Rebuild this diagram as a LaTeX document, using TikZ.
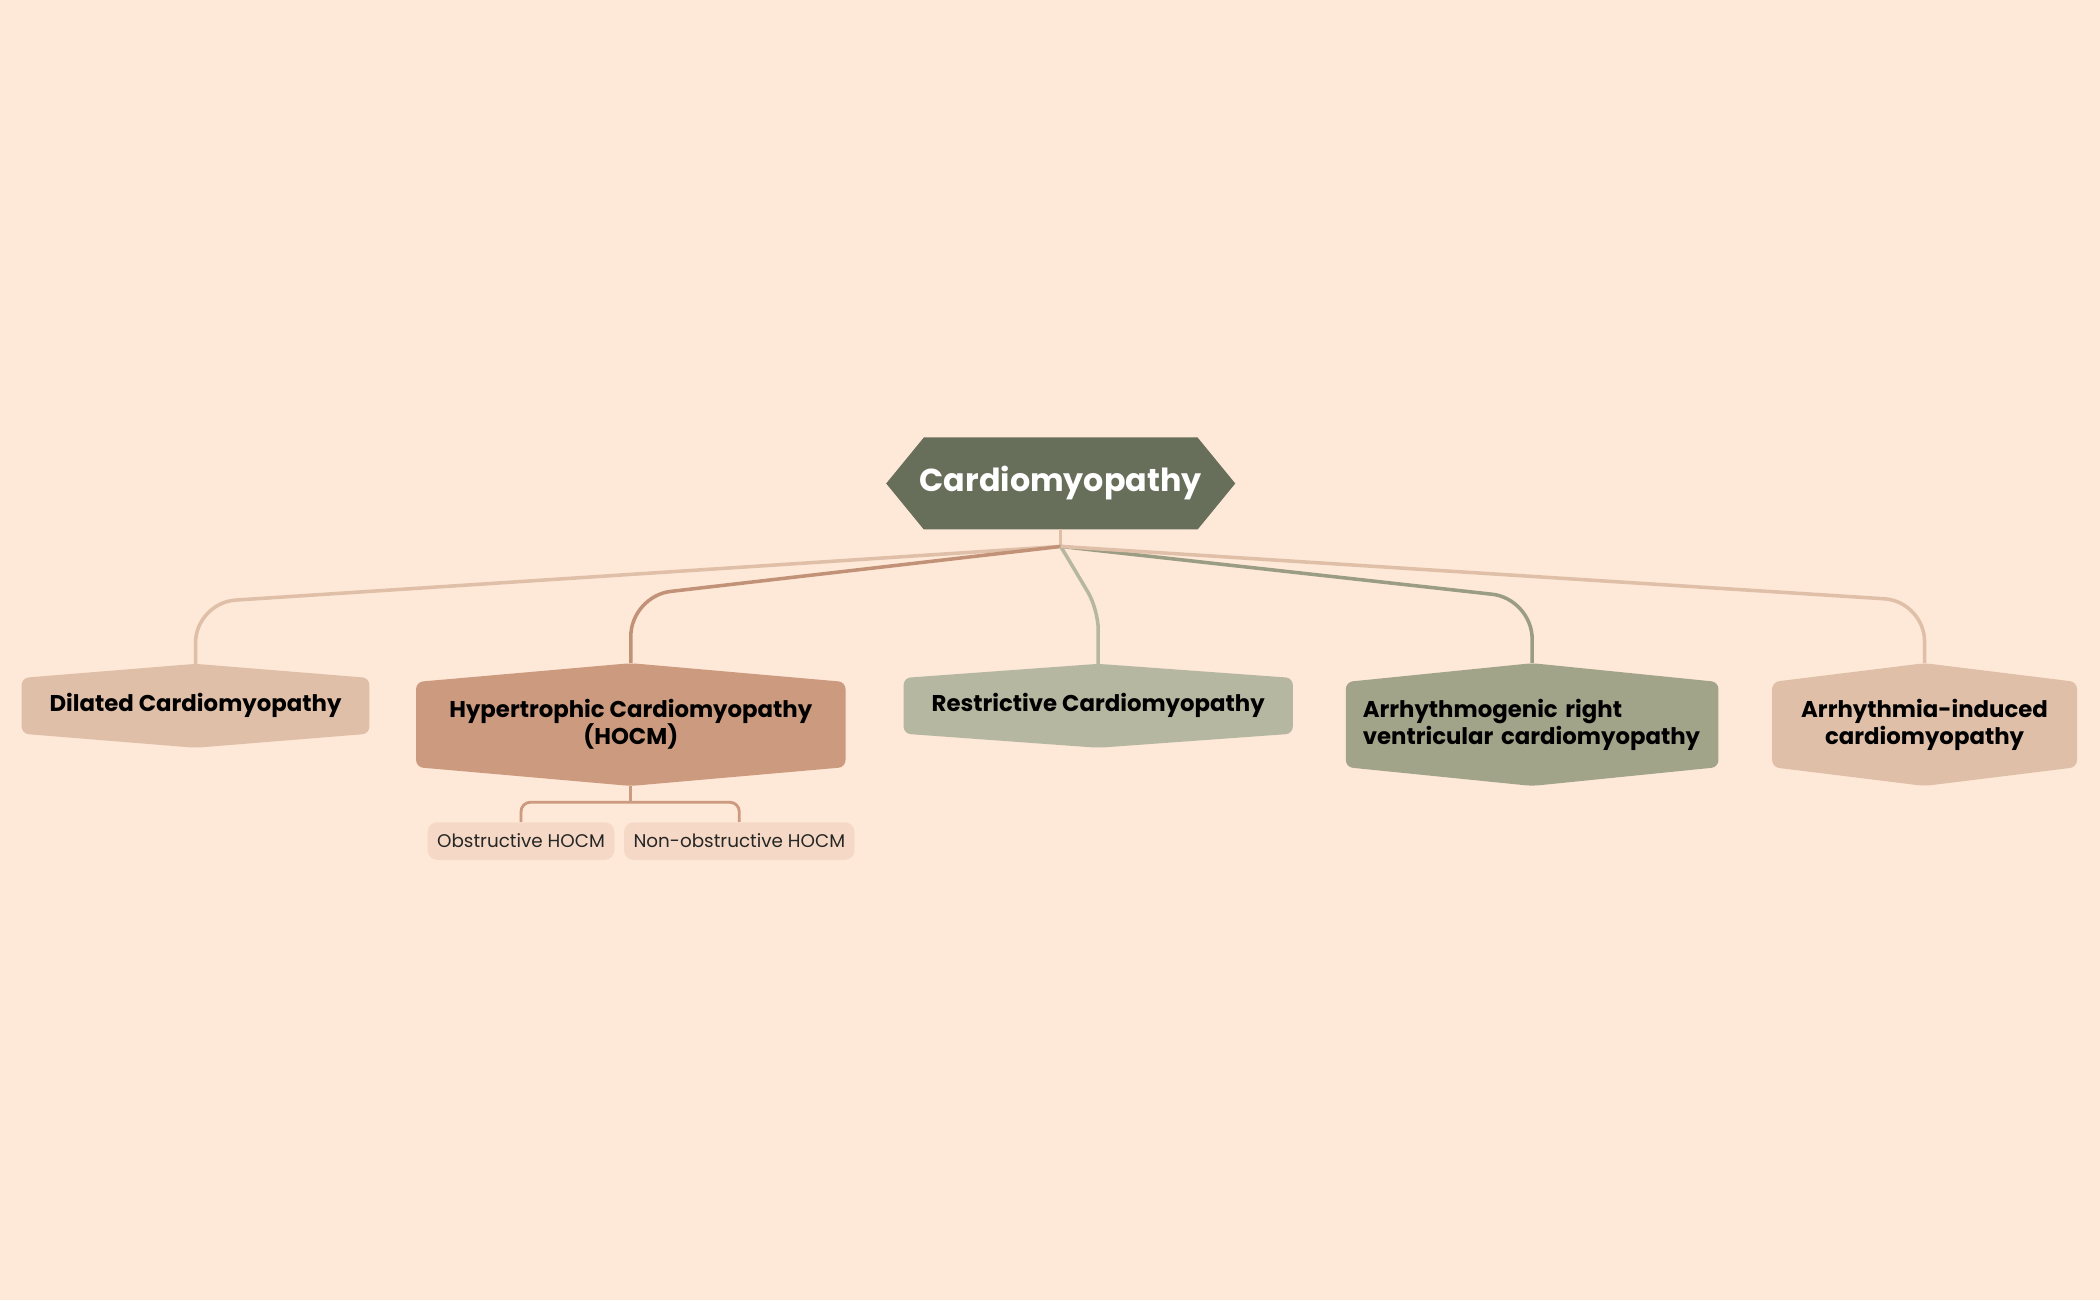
\documentclass[tikz,border=0pt]{standalone}
\usepackage{fontspec}
\setmainfont{Poppins}
\usetikzlibrary{positioning,calc,backgrounds}
\definecolor{bgpeach}{HTML}{FEE8D8}
\definecolor{rootgreen}{HTML}{676F5A}
\definecolor{tanfill}{HTML}{DFBFA8}
\definecolor{clayfill}{HTML}{CC9A7E}
\definecolor{sagefill}{HTML}{B6B7A1}
\definecolor{olivefill}{HTML}{A2A48A}
\definecolor{leaffill}{HTML}{F5D9C6}
\newcommand\hexfill[3]{% node, colour, peak
  \fill[#2,rounded corners=3pt] ($(#1.north west)+(0pt,-#3)$) -- (#1.north)
    -- ($(#1.north east)+(0pt,-#3)$) -- ($(#1.south east)+(0pt,#3)$)
    -- (#1.south) -- ($(#1.south west)+(0pt,#3)$) -- cycle;}
\begin{document}
\begin{tikzpicture}
		[x=0.02cm,y=-0.02cm,
		 topic/.style={align=center,font=\bfseries\fontsize{9.7}{11.6}\selectfont,inner sep=0pt},
		 leaf/.style={fill=leaffill,rounded corners=4pt,minimum height=0.56cm,inner xsep=4pt,font=\fontsize{7.8}{9}\selectfont,text=black!85},
		 branch/.style={line width=1.5pt,rounded corners=0.6cm}]
		\useasboundingbox (0,0) rectangle (1568,971);
		
		\node [topic,minimum width=5.18cm,minimum height=1.24cm] (dil) at (146,527) {Dilated Cardiomyopathy};
		\node [topic,minimum width=6.4cm,minimum height=1.82cm] (hocm) at (471,541) {Hypertrophic Cardiomyopathy\\(HOCM)};
		\node [topic,minimum width=5.8cm,minimum height=1.24cm] (rest) at (820,527) {Restrictive Cardiomyopathy};
		\node [topic,align=left,text width=5.06cm,minimum height=1.82cm] (arvc) at (1144,541) {Arrhythmogenic right\\ventricular cardiomyopathy};
		\node [topic,minimum width=4.54cm,minimum height=1.82cm] (arr) at (1437,541) {Arrhythmia-induced\\cardiomyopathy};
		\node [inner sep=0pt,minimum width=5.2cm,minimum height=1.36cm,text=white,font=\bfseries\fontsize{13.5}{16}\selectfont] (root) at (792,361) {Cardiomyopathy};
		
		\node [leaf] (obs) at (389,628) {Obstructive HOCM};
		\node [leaf] (non) at (552,628) {Non-obstructive HOCM};
		
		\begin{scope}[on background layer]
		\fill[bgpeach] (0,0) rectangle (1568,971);
		\hexfill{dil}{tanfill}{6pt}
		\hexfill{hocm}{clayfill}{8pt}
		\hexfill{rest}{sagefill}{6pt}
		\fill[olivefill,rounded corners=3pt] ($(arvc.north west)+(-7pt,-8pt)$) -- (arvc.north)
		  -- ($(arvc.north east)+(7pt,-8pt)$) -- ($(arvc.south east)+(7pt,8pt)$)
		  -- (arvc.south) -- ($(arvc.south west)+(-7pt,8pt)$) -- cycle;
		\hexfill{arr}{tanfill}{8pt}
		\fill[rootgreen] (root.west) -- ($(root.north west)+(16pt,0pt)$) -- ($(root.north east)+(-16pt,0pt)$)
		  -- (root.east) -- ($(root.south east)+(-16pt,0pt)$) -- ($(root.south west)+(16pt,0pt)$) -- cycle;
		\end{scope}
		
		\coordinate (hub) at (792,408);
		\coordinate (split) at (471,599);
		\draw[line width=1.5pt,tanfill] (root.south) -- (hub);
		\draw[branch,tanfill] (hub) -- (146,450) -- (dil.north);
		\draw[branch,clayfill!95!black] (hub) -- (471,445) -- (hocm.north);
		\draw[branch,sagefill,rounded corners=0.3cm] (hub) -- (820,455) -- (rest.north);
		\draw[branch,olivefill!95!black] (hub) -- (1144,447) -- (arvc.north);
		\draw[branch,tanfill] (hub) -- (1437,449) -- (arr.north);
		
		\draw[line width=1.2pt,clayfill] (hocm.south) -- (split);
		\draw[line width=1.2pt,clayfill,rounded corners=4pt] (obs.north) -- (389,599) -- (552,599) -- (non.north);
		
\end{tikzpicture}
\end{document}
